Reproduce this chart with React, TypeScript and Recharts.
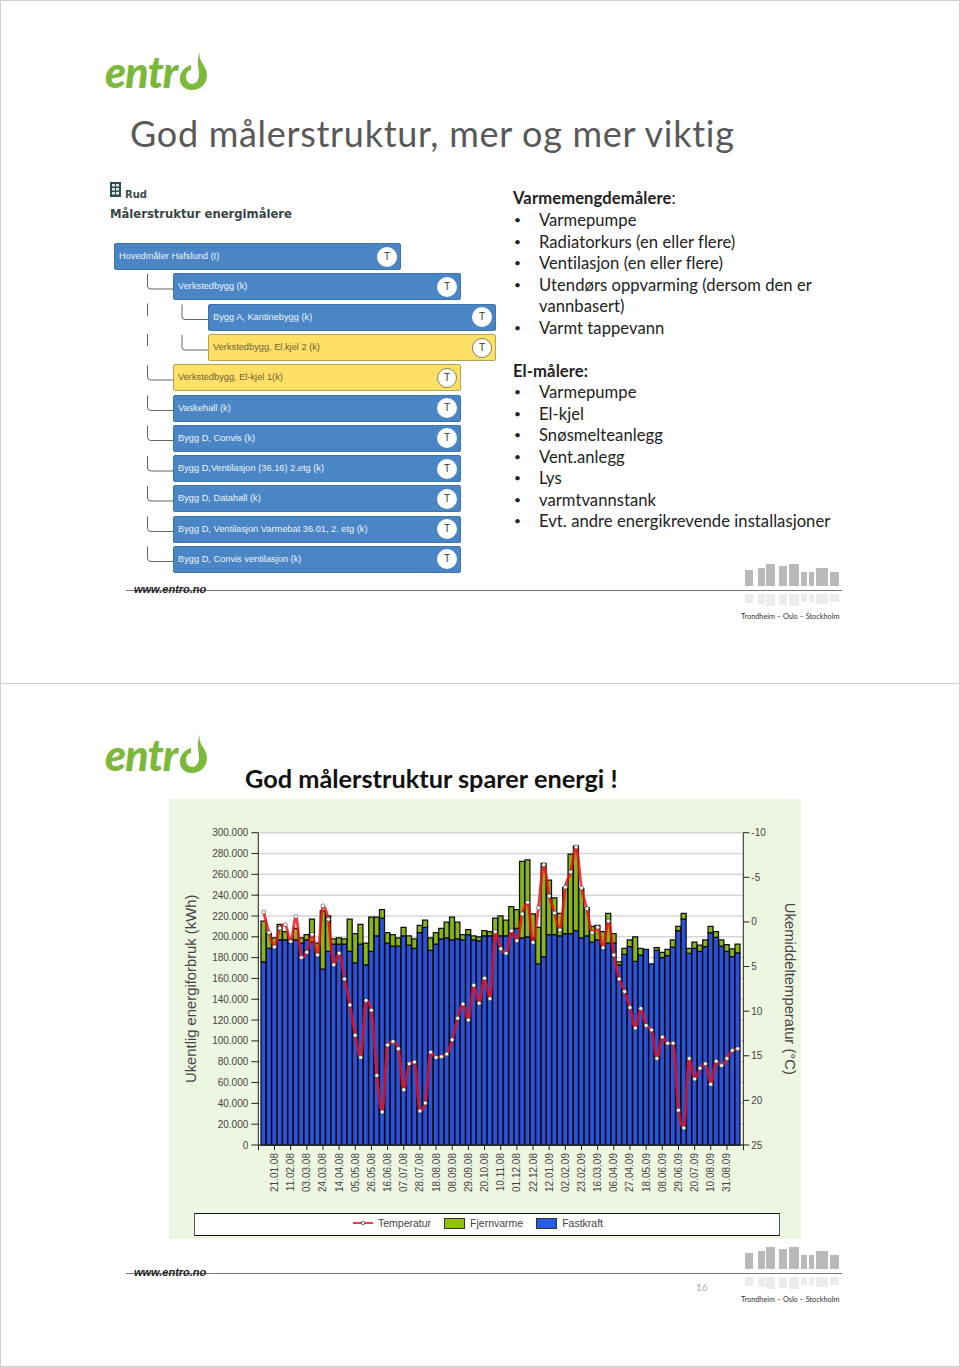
import { Bar, CartesianGrid, ComposedChart, Label, Legend, Line, XAxis, YAxis } from 'recharts'

const weeks = [
  '07.01.08', '14.01.08', '21.01.08', '28.01.08', '04.02.08', '11.02.08', '18.02.08', '25.02.08', '03.03.08', '10.03.08',
  '17.03.08', '24.03.08', '31.03.08', '07.04.08', '14.04.08', '21.04.08', '28.04.08', '05.05.08', '12.05.08', '19.05.08',
  '26.05.08', '02.06.08', '09.06.08', '16.06.08', '23.06.08', '30.06.08', '07.07.08', '14.07.08', '21.07.08', '28.07.08',
  '04.08.08', '11.08.08', '18.08.08', '25.08.08', '01.09.08', '08.09.08', '15.09.08', '22.09.08', '29.09.08', '06.10.08',
  '13.10.08', '20.10.08', '27.10.08', '03.11.08', '10.11.08', '17.11.08', '24.11.08', '01.12.08', '08.12.08', '15.12.08',
  '22.12.08', '29.12.08', '05.01.09', '12.01.09', '19.01.09', '26.01.09', '02.02.09', '09.02.09', '16.02.09', '23.02.09',
  '02.03.09', '09.03.09', '16.03.09', '23.03.09', '30.03.09', '06.04.09', '13.04.09', '20.04.09', '27.04.09', '04.05.09',
  '11.05.09', '18.05.09', '25.05.09', '01.06.09', '08.06.09', '15.06.09', '22.06.09', '29.06.09', '06.07.09', '13.07.09',
  '20.07.09', '27.07.09', '03.08.09', '10.08.09', '17.08.09', '24.08.09', '31.08.09', '07.09.09', '14.09.09',
]

const weekTicks = [
  '21.01.08', '11.02.08', '03.03.08', '24.03.08', '14.04.08', '05.05.08', '26.05.08', '16.06.08', '07.07.08', '28.07.08',
  '18.08.08', '08.09.08', '29.09.08', '20.10.08', '10.11.08', '01.12.08', '22.12.08', '12.01.09', '02.02.09', '23.02.09',
  '16.03.09', '06.04.09', '27.04.09', '18.05.09', '08.06.09', '29.06.09', '20.07.09', '10.08.09', '31.08.09',
]

// thousand kWh per week
const fastkraft = [
  176, 189, 190, 197, 197, 194, 197, 194, 197, 195, 182, 169, 186, 193, 193, 193, 186, 175, 193, 173,
  186, 201, 218, 194, 191, 191, 201, 192, 189, 204, 209, 187, 193, 198, 199, 197, 198, 197, 202, 197,
  196, 201, 201, 201, 201, 201, 203, 208, 199, 200, 199, 174, 181, 202, 202, 201, 203, 203, 206, 199,
  201, 195, 197, 190.5, 194, 194, 173, 183, 190.5, 176.5, 182.5, 188, 174, 187, 180, 182, 190, 206, 217,
  184, 189, 186, 190.5, 204, 199.5, 191, 186, 181, 184.5,
]

const fjernvarme = [
  39, 14, 9, 15, 8, 4, 11, 5, 5, 22, 12, 56, 34, 5, 6, 5, 31, 28, 19, 21,
  33, 18, 8, 10, 11, 8, 8, 9, 9, 7, 7, 12, 11, 10, 15, 22, 16, 5, 5, 4,
  4, 5, 4, 17, 19, 15, 26, 18, 73.5, 74, 23, 35, 89.5, 52.5, 35.5, 21.5, 44.5, 76.5, 81, 47.5,
  27, 15, 14, 14.5, 28.5, 9, 3, 6, 6.5, 23.5, 6.5, 0, 0, 2.5, 5, 6, 7, 4, 5.5,
  5, 6, 6, 6.5, 6, 5.5, 6, 6.5, 7.5, 8.5,
]

// degrees C, plotted on the reversed right axis
const temperatur = [
  -1.1, 1.2, 2.8, 0.7, 0.3, 2.2, -0.6, 4, 3.4, 1.4, 3.7, -1.8, -0.3, 4.8, 3.5, 6.4, 9.3, 12.7, 15.2, 8.8,
  9.9, 17.2, 21.3, 13.8, 13.4, 14.2, 18.8, 15.9, 15.7, 21.2, 20.3, 14.6, 15.2, 15.1, 14.8, 13.2, 10.8, 9.2, 11, 7.1,
  9.1, 6.3, 8.6, 1.1, 3, 3.5, 1, 2.1, -0.9, -2.2, 2.3, -1.6, -6.4, -2.9, -1, 0.9, -3.9, -5.6, -8.4, -3.8,
  -1.5, 1.2, 0.6, 2.9, -0.1, 3.7, 6.4, 7.8, 9.6, 11.9, 9.7, 11.6, 12.1, 15.3, 12.9, 13.6, 13.6, 21.1, 23.1,
  15.3, 17.6, 16.4, 15.9, 18.2, 15.6, 16.1, 15.3, 14.4, 14.2,
]

const energyTicks = [0, 20, 40, 60, 80, 100, 120, 140, 160, 180, 200, 220, 240, 260, 280, 300]
const tempTicks = [-10, -5, 0, 5, 10, 15, 20, 25]

const meters = [
  { name: 'Hovedmåler Hafslund (t)', x: 114, w: 287, y: 243, yellow: false },
  { name: 'Verkstedbygg (k)', x: 173, w: 288, y: 273, yellow: false },
  { name: 'Bygg A, Kantinebygg (k)', x: 208, w: 288, y: 303.5, yellow: false },
  { name: 'Verkstedbygg, El.kjel 2 (k)', x: 208, w: 288, y: 334, yellow: true },
  { name: 'Verkstedbygg, El-kjel 1(k)', x: 173, w: 288, y: 364, yellow: true },
  { name: 'Vaskehall (k)', x: 173, w: 288, y: 394.5, yellow: false },
  { name: 'Bygg D, Convis (k)', x: 173, w: 288, y: 424.5, yellow: false },
  { name: 'Bygg D,Ventilasjon (36.16) 2.etg (k)', x: 173, w: 288, y: 455, yellow: false },
  { name: 'Bygg D, Datahall (k)', x: 173, w: 288, y: 485, yellow: false },
  { name: 'Bygg D, Ventilasjon Varmebat 36.01, 2. etg (k)', x: 173, w: 288, y: 515.5, yellow: false },
  { name: 'Bygg D, Convis ventilasjon (k)', x: 173, w: 288, y: 545.5, yellow: false },
]

const heatMeters = ['Varmepumpe', 'Radiatorkurs (en eller flere)', 'Ventilasjon (en eller flere)', 'Utendørs oppvarming (dersom den er', 'vannbasert)', 'Varmt tappevann']
const elMeters = ['Varmepumpe', 'El-kjel', 'Snøsmelteanlegg', 'Vent.anlegg', 'Lys', 'varmtvannstank', 'Evt. andre energikrevende installasjoner']

const chartData = weeks.map((week, i) => ({
  week,
  fastkraft: fastkraft[i],
  fjernvarme: fjernvarme[i],
  temperatur: temperatur[i],
}))

const CHART_FONT = '"Liberation Sans", Arial, sans-serif'
const SLIDE_FONT = 'Lato, sans-serif'
const AXIS_COLOR = '#222'
const LABEL_COLOR = '#444'

function Txt({ x, y, size, children, color = '#222', weight = 400, italic = false, family = SLIDE_FONT, spacing = 0 }: any) {
  return (
    <div style={{
      position: 'absolute', left: x, top: y, lineHeight: 1, transform: 'translateY(-50%)', whiteSpace: 'nowrap',
      fontSize: size, color, fontWeight: weight, fontStyle: italic ? 'italic' : 'normal', fontFamily: family, letterSpacing: spacing,
    }}>
      {children}
    </div>
  )
}

function Logo({ top }: { top: number }) {
  return (
    <svg width={130} height={60} viewBox="100 45 130 60" style={{ position: 'absolute', left: 100, top: top + 43 }}>
      <text x={105} y={90} fontFamily="Lato, sans-serif" fontStyle="italic" fontWeight={900} fontSize={43} letterSpacing={-0.8} fill="#7cb93a">entr</text>
      <path
        fill="#7cb93a"
        d="M200 53 C197 63 207 67 207 77 C207 86 200 92 192 92 C184 92 179 86 180 79 C181 73 185 69 191 67 L191 72 C187 73 186 76 186 79 C186 83 189 86 192 86 C196 86 199 82 199 77 C199 69 196 62 200 53 Z"
      />
    </svg>
  )
}

function Footer({ top }: { top: number }) {
  const blocks = [[745, 8, 16], [757.5, 7.5, 18], [765.5, 9, 22], [779, 7.5, 20], [789, 9.5, 22], [801, 6, 14], [809, 5, 14], [816, 11.5, 18], [829.5, 9, 14]]
  return (
    <>
      <div style={{ position: 'absolute', left: 126, top: top + 590, width: 716, height: 1, background: '#777' }} />
      <Txt x={134} y={top + 589} size={11} weight={700} italic color="#222" family={CHART_FONT}>www.entro.no</Txt>
      {blocks.map(([x, w, h]) => (
        <div key={x}>
          <div style={{ position: 'absolute', left: x, top: top + 585.5 - h, width: w, height: h, background: '#b9b9b9' }} />
          <div style={{ position: 'absolute', left: x, top: top + 594, width: w, height: h * 0.55, background: '#ececec' }} />
        </div>
      ))}
      <Txt x={741} y={top + 617} size={7.3} color="#333">Trondheim – Oslo – Stockholm</Txt>
    </>
  )
}

function MeterTree() {
  return (
    <>
      <svg width={130} height={340} style={{ position: 'absolute', left: 100, top: 240 }}>
        <g fill="none" stroke="#666" strokeWidth={1}>
          {meters.filter(m => m.x === 173).map(m => (
            <path key={m.name} d={`M47.5 ${m.y - 240 + 1} V${m.y - 240 + 13} Q47.5 ${m.y - 240 + 16} 51 ${m.y - 240 + 16} H73`} />
          ))}
          {meters.filter(m => m.x === 208).map(m => (
            <path key={m.name} d={`M82 ${m.y - 240 + 1} V${m.y - 240 + 13} Q82 ${m.y - 240 + 16} 85 ${m.y - 240 + 16} H108`} />
          ))}
          <path d="M47.5 63.5 V76 M47.5 94 V106" />
        </g>
      </svg>
      {meters.map(m => (
        <div key={m.name} style={{
          position: 'absolute', left: m.x, top: m.y, width: m.w, height: 27, boxSizing: 'border-box', borderRadius: 2,
          background: m.yellow ? '#ffe066' : '#4a86c5', border: `1px solid ${m.yellow ? '#b5a44e' : '#3f74ad'}`,
          color: m.yellow ? '#6b6136' : '#eef3f9', fontFamily: CHART_FONT, fontSize: 9.25, lineHeight: '24px', paddingLeft: 4,
        }}>
          {m.name}
          <div style={{
            position: 'absolute', right: 3, top: 2.5, width: 20, height: 20, boxSizing: 'border-box', borderRadius: 10,
            background: '#fff', border: m.yellow ? '1px solid #8a8250' : 'none', color: '#333', fontSize: 10, lineHeight: m.yellow ? '18px' : '20px', textAlign: 'center',
          }}>T</div>
        </div>
      ))}
    </>
  )
}

function WeekTick({ x, y, payload }: any) {
  return (
    <text x={0} y={0} transform={`translate(${x + 3.5},${y + 1}) rotate(-90)`} textAnchor="end" fontSize={10} fontFamily={CHART_FONT} fill={LABEL_COLOR}>
      {payload.value}
    </text>
  )
}

function ChartLegend() {
  const label = { fontFamily: CHART_FONT, fontSize: 10.5, color: LABEL_COLOR }
  const swatch = (fill: string) => ({ width: 21, height: 11, background: fill, border: '1px solid #333', boxSizing: 'border-box' as const, margin: '0 5px 0 13px' })
  return (
    <div style={{
      height: 23, boxSizing: 'border-box', background: '#fff', borderTop: '1.5px solid #111', borderBottom: '1.5px solid #111',
      borderLeft: '1px solid #555', borderRight: '1px solid #555', display: 'flex', alignItems: 'center', justifyContent: 'center', paddingRight: 18, paddingBottom: 3,
    }}>
      <svg width={20} height={8} style={{ marginRight: 5 }}>
        <line x1={0} x2={20} y1={4} y2={4} stroke="#e8101c" strokeWidth={1.6} />
        <circle cx={10} cy={4} r={1.8} fill="#fff" stroke="#333" strokeWidth={0.7} />
      </svg>
      <span style={label}>Temperatur</span>
      <div style={swatch('#8fc200')} />
      <span style={label}>Fjernvarme</span>
      <div style={swatch('#2b5ce6')} />
      <span style={label}>Fastkraft</span>
    </div>
  )
}

function EnergyChart() {
  return (
    <ComposedChart
      width={632}
      height={440}
      data={chartData}
      barGap={0}
      barCategoryGap={0}
      margin={{ top: 33.7, right: 0, bottom: 3, left: 0 }}
    >
      <CartesianGrid yAxisId="energy" vertical={false} fill="#fff" stroke="#d6d6d6" strokeWidth={1.5} />
      <XAxis
        dataKey="week"
        ticks={weekTicks}
        interval={0}
        height={68}
        padding={{ left: 2.7, right: 2.9 }}
        tick={<WeekTick />}
        tickSize={5}
        stroke={AXIS_COLOR}
      />
      <YAxis
        yAxisId="energy"
        width={89.3}
        domain={[0, 300]}
        ticks={energyTicks}
        interval={0}
        tickFormatter={v => (v === 0 ? '0' : `${v}.000`)}
        tick={{ fill: LABEL_COLOR, fontSize: 10, fontFamily: CHART_FONT }}
        tickSize={7}
        tickMargin={3}
        stroke={AXIS_COLOR}
      >
        <Label value="Ukentlig energiforbruk (kWh)" angle={-90} position="insideLeft" offset={0} dx={22} textAnchor="middle" fill={LABEL_COLOR} fontSize={14.8} fontFamily={CHART_FONT} />
      </YAxis>
      <YAxis
        yAxisId="temp"
        orientation="right"
        reversed
        width={57.7}
        domain={[-10, 25]}
        ticks={tempTicks}
        interval={0}
        tick={{ fill: LABEL_COLOR, fontSize: 10, fontFamily: CHART_FONT }}
        tickSize={6}
        tickMargin={2}
        stroke={AXIS_COLOR}
      >
        <Label value="Ukemiddeltemperatur (°C)" angle={90} position="insideRight" offset={0} dx={-11} textAnchor="middle" fill={LABEL_COLOR} fontSize={14.8} fontFamily={CHART_FONT} />
      </YAxis>
      <Legend
        content={<ChartLegend />}
        verticalAlign="bottom"
        wrapperStyle={{ left: 25, width: 586 }}
      />
      <Bar yAxisId="energy" dataKey="fastkraft" name="Fastkraft" stackId="a" fill="#2b52d9" stroke="#0c0c14" strokeWidth={1.25} isAnimationActive={false} />
      <Bar yAxisId="energy" dataKey="fjernvarme" name="Fjernvarme" stackId="a" fill="#8ab518" stroke="#0c0c14" strokeWidth={1.25} isAnimationActive={false} />
      <Line
        yAxisId="temp"
        type="monotone"
        dataKey="temperatur"
        name="Temperatur"
        stroke="#f01018"
        strokeOpacity={0.82}
        strokeWidth={2.8}
        dot={{ r: 2, fill: '#fff', stroke: '#333', strokeWidth: 0.7, fillOpacity: 1 }}
        isAnimationActive={false}
      />
    </ComposedChart>
  )
}

export default function App() {
  return (
    <div style={{ position: 'absolute', left: 0, top: 0, width: 960, height: 1367, background: '#fff', overflow: 'hidden' }}>
      <div style={{ position: 'absolute', left: 0, top: 0, width: 958, height: 682, border: '1px solid #d0d0d0' }} />
      <div style={{ position: 'absolute', left: 0, top: 683, width: 958, height: 682, border: '1px solid #d0d0d0' }} />

      <Logo top={0} />
      <Txt x={130} y={133} size={36} spacing={0.7} color="#595959">God målerstruktur, mer og mer viktig</Txt>

      <svg width={12} height={16} style={{ position: 'absolute', left: 110, top: 182 }}>
        <rect width={11} height={15} fill="#2f5050" />
        {[2, 6, 10].map(y => [2, 6].map(x => <rect key={`${x}-${y}`} x={x} y={y} width={3} height={2.5} fill="#dfe8e8" />))}
      </svg>
      <Txt x={125} y={195} size={10} weight={700} color="#3a4a4a" family="'DejaVu Sans', sans-serif">Rud</Txt>
      <Txt x={110} y={215} size={11.6} weight={700} color="#3a4444" family="'DejaVu Sans', sans-serif">Målerstruktur energimålere</Txt>
      <MeterTree />

      <Txt x={513} y={198} size={16.6} spacing={0.1}><b>Varmemengdemålere</b>:</Txt>
      {heatMeters.map((item, i) => (
        <div key={item}>
          {item !== 'vannbasert)' && <Txt x={514} y={220 + i * 21.5} size={12}>•</Txt>}
          <Txt x={539} y={220 + i * 21.5} size={16.6} spacing={0.05}>{item}</Txt>
        </div>
      ))}
      <Txt x={513} y={371} size={16.6} weight={700} spacing={0.1}>El-målere:</Txt>
      {elMeters.map((item, i) => (
        <div key={item}>
          <Txt x={514} y={392 + i * 21.5} size={12}>•</Txt>
          <Txt x={539} y={392 + i * 21.5} size={16.6} spacing={0.05}>{item}</Txt>
        </div>
      ))}
      <Footer top={0} />

      <Logo top={683} />
      <div style={{ position: 'absolute', left: 169, top: 799, width: 632, height: 440, background: '#edf6e0' }}>
        <EnergyChart />
        <div style={{ position: 'absolute', left: 89, top: 346, width: 1, height: 5, background: AXIS_COLOR }} />
        <div style={{ position: 'absolute', left: 574, top: 346, width: 1, height: 5, background: AXIS_COLOR }} />
      </div>
      <Txt x={245} y={779} size={25.3} weight={700} color="#111">God målerstruktur sparer energi !</Txt>
      <Txt x={696} y={1287} size={10} color="#aaa">16</Txt>
      <Footer top={683} />
    </div>
  )
}
